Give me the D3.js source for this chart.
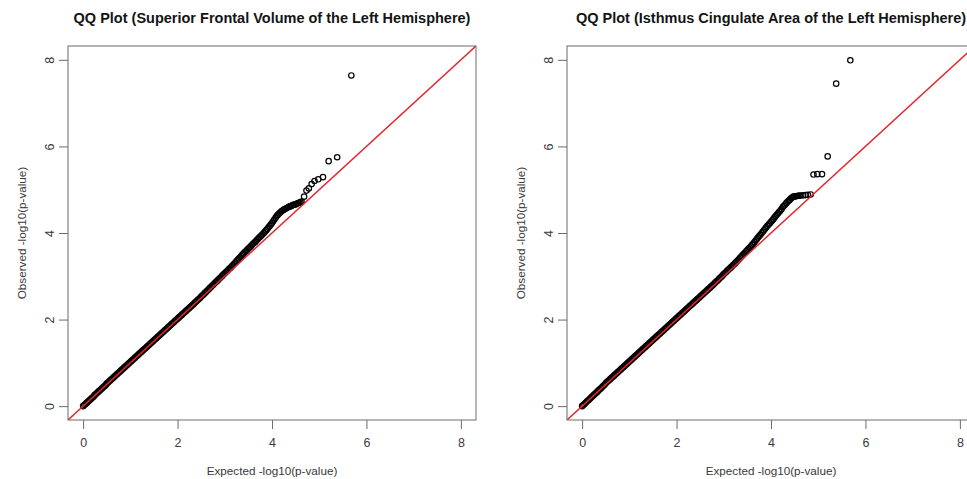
<!DOCTYPE html>
<html>
<head>
<meta charset="utf-8">
<script src="https://cdn.jsdelivr.net/npm/d3@7"></script>
<style>
  body { margin: 0; background: #fff; }
  text { font-family: "Liberation Sans", Arial, sans-serif; }
</style>
</head>
<body>
<svg id="chart" width="967" height="479"></svg>
<script>
const AXIS_TICKS = [0, 2, 4, 6, 8];
const TITLES = [
  "QQ Plot (Superior Frontal Volume of the Left Hemisphere)",
  "QQ Plot (Isthmus Cingulate Area of the Left Hemisphere)"
];
const X_LABEL = "Expected -log10(p-value)";
const Y_LABEL = "Observed -log10(p-value)";

// expected quantiles, shared by both panels (same number of tests)
const expected = [
  0, 0.025, 0.05, 0.075, 0.1, 0.125, 0.15, 0.175, 0.2, 0.225,
  0.25, 0.275, 0.3, 0.325, 0.35, 0.375, 0.4, 0.425, 0.45, 0.475,
  0.5, 0.525, 0.55, 0.575, 0.6, 0.625, 0.65, 0.675, 0.7, 0.725,
  0.75, 0.775, 0.8, 0.825, 0.85, 0.875, 0.9, 0.925, 0.95, 0.975,
  1, 1.025, 1.05, 1.075, 1.1, 1.125, 1.15, 1.175, 1.2, 1.225,
  1.25, 1.275, 1.3, 1.325, 1.35, 1.375, 1.4, 1.425, 1.45, 1.475,
  1.5, 1.525, 1.55, 1.575, 1.6, 1.625, 1.65, 1.675, 1.7, 1.725,
  1.75, 1.775, 1.8, 1.825, 1.85, 1.875, 1.9, 1.925, 1.95, 1.975,
  2, 2.025, 2.05, 2.075, 2.1, 2.125, 2.15, 2.175, 2.2, 2.225,
  2.25, 2.275, 2.3, 2.325, 2.35, 2.375, 2.4, 2.425, 2.45, 2.475,
  2.5, 2.525, 2.55, 2.575, 2.6, 2.625, 2.65, 2.675, 2.7, 2.725,
  2.75, 2.775, 2.8, 2.825, 2.85, 2.875, 2.9, 2.925, 2.95, 2.975,
  3, 3.025, 3.05, 3.075, 3.1, 3.125, 3.15, 3.175, 3.2, 3.225,
  3.25, 3.275, 3.3, 3.325, 3.35, 3.375, 3.4, 3.425, 3.45, 3.475,
  3.5, 3.525, 3.55, 3.575, 3.6, 3.625, 3.65, 3.675, 3.7, 3.725,
  3.75, 3.775, 3.8, 3.825, 3.85, 3.875, 3.9, 3.925, 3.95, 3.975,
  4, 4.025, 4.05, 4.075, 4.1, 4.125, 4.15, 4.175, 4.2, 4.225,
  4.25, 4.275, 4.3, 4.325, 4.35, 4.375, 4.4, 4.425, 4.45, 4.475,
  4.5, 4.525, 4.55, 4.575, 4.6, 4.625,
  4.68, 4.73, 4.78, 4.84, 4.9, 4.98, 5.08, 5.2, 5.38, 5.68
];

const observedFrontal = [
  0, 0.025, 0.05, 0.075, 0.1, 0.125, 0.15, 0.175, 0.2, 0.225,
  0.26, 0.285, 0.31, 0.335, 0.36, 0.385, 0.41, 0.435, 0.46, 0.485,
  0.52, 0.545, 0.57, 0.595, 0.62, 0.645, 0.67, 0.695, 0.72, 0.745,
  0.77, 0.795, 0.82, 0.845, 0.87, 0.895, 0.92, 0.945, 0.97, 0.995,
  1.02, 1.045, 1.07, 1.095, 1.12, 1.145, 1.17, 1.195, 1.22, 1.245,
  1.27, 1.295, 1.32, 1.345, 1.37, 1.395, 1.42, 1.445, 1.47, 1.495,
  1.52, 1.545, 1.57, 1.595, 1.62, 1.645, 1.67, 1.695, 1.72, 1.745,
  1.77, 1.795, 1.82, 1.845, 1.87, 1.895, 1.92, 1.945, 1.97, 1.995,
  2.02, 2.045, 2.07, 2.095, 2.12, 2.145, 2.17, 2.195, 2.22, 2.245,
  2.27, 2.295, 2.32, 2.345, 2.37, 2.4, 2.425, 2.45, 2.475, 2.5,
  2.53, 2.555, 2.58, 2.61, 2.635, 2.665, 2.69, 2.72, 2.745, 2.775,
  2.8, 2.825, 2.855, 2.88, 2.905, 2.935, 2.96, 2.99, 3.015, 3.045,
  3.07, 3.1, 3.12, 3.15, 3.18, 3.2, 3.23, 3.26, 3.29, 3.32,
  3.35, 3.38, 3.41, 3.44, 3.47, 3.5, 3.53, 3.56, 3.585, 3.61,
  3.64, 3.665, 3.69, 3.72, 3.75, 3.775, 3.8, 3.83, 3.86, 3.89,
  3.915, 3.94, 3.97, 4, 4.03, 4.06, 4.09, 4.125, 4.16, 4.195,
  4.23, 4.27, 4.31, 4.35, 4.39, 4.42, 4.45, 4.475, 4.5, 4.52,
  4.54, 4.555, 4.57, 4.585, 4.6, 4.615, 4.62, 4.635, 4.65, 4.655,
  4.66, 4.675, 4.69, 4.7, 4.71, 4.725,
  4.84, 4.98, 5.03, 5.13, 5.2, 5.24, 5.29, 5.66, 5.75, 7.64
];

const observedCingulate = [
  0, 0.025, 0.05, 0.08, 0.105, 0.13, 0.155, 0.18, 0.21, 0.235,
  0.26, 0.285, 0.31, 0.335, 0.365, 0.39, 0.415, 0.44, 0.47, 0.495,
  0.53, 0.555, 0.58, 0.605, 0.63, 0.655, 0.68, 0.705, 0.73, 0.755,
  0.78, 0.805, 0.83, 0.855, 0.88, 0.905, 0.93, 0.955, 0.98, 1.005,
  1.03, 1.055, 1.08, 1.105, 1.13, 1.155, 1.18, 1.205, 1.23, 1.255,
  1.28, 1.305, 1.33, 1.355, 1.38, 1.405, 1.43, 1.455, 1.48, 1.505,
  1.53, 1.555, 1.58, 1.605, 1.63, 1.655, 1.68, 1.705, 1.73, 1.755,
  1.78, 1.805, 1.83, 1.855, 1.88, 1.905, 1.93, 1.955, 1.98, 2.005,
  2.03, 2.055, 2.08, 2.105, 2.13, 2.155, 2.18, 2.205, 2.23, 2.255,
  2.28, 2.305, 2.33, 2.355, 2.38, 2.405, 2.43, 2.455, 2.48, 2.505,
  2.53, 2.555, 2.58, 2.605, 2.63, 2.655, 2.68, 2.705, 2.73, 2.755,
  2.78, 2.805, 2.832, 2.86, 2.885, 2.91, 2.94, 2.965, 2.99, 3.02,
  3.05, 3.075, 3.1, 3.13, 3.155, 3.18, 3.205, 3.23, 3.26, 3.285,
  3.315, 3.34, 3.37, 3.4, 3.43, 3.46, 3.49, 3.52, 3.545, 3.575,
  3.605, 3.635, 3.665, 3.695, 3.725, 3.755, 3.79, 3.825, 3.86, 3.895,
  3.93, 3.96, 3.995, 4.03, 4.065, 4.1, 4.13, 4.165, 4.195, 4.225,
  4.26, 4.29, 4.32, 4.36, 4.39, 4.425, 4.455, 4.49, 4.52, 4.555,
  4.6, 4.63, 4.66, 4.69, 4.72, 4.745, 4.77, 4.8, 4.82, 4.84,
  4.845, 4.85, 4.855, 4.86, 4.86, 4.865,
  4.87, 4.875, 4.88, 4.89, 5.35, 5.36, 5.36, 5.77, 7.45, 7.99
];

const plotTop = 46, plotBottom = 420;
const DOMAIN = [-0.32, 8.32];

const panels = [
  { id: "frontal", title: TITLES[0], observed: observedFrontal, left: 68, right: 476 },
  { id: "cingulate", title: TITLES[1], observed: observedCingulate, left: 567, right: 975 }
];

function renderXAxis(x, target) {
  target.append("g")
    .attr("class", "x-axis")
    .attr("transform", `translate(0,${plotBottom})`)
    .call(d3.axisBottom(x).tickValues(AXIS_TICKS).tickSize(9).tickPadding(9).tickFormat(d3.format("d")));
}

function renderYAxis(y, target, left) {
  target.append("g")
    .attr("class", "y-axis")
    .attr("transform", `translate(${left},0)`)
    .call(d3.axisLeft(y).tickValues(AXIS_TICKS).tickSize(9).tickFormat(d3.format("d")));

  target.select(".y-axis")
    .selectAll("text")
    .attr("transform", "rotate(-90)")
    .attr("x", 0)
    .attr("y", -14.5)
    .attr("dy", 0)
    .style("text-anchor", "middle");
}

function drawPanel(p) {
  let svg = d3.select("#chart");
  let g = svg.append("g").attr("id", p.id);

  let x = d3.scaleLinear().domain(DOMAIN).range([p.left, p.right]);
  let y = d3.scaleLinear().domain(DOMAIN).range([plotBottom, plotTop]);

  g.append("clipPath")
    .attr("id", `clip-${p.id}`)
    .append("rect")
    .attr("x", p.left)
    .attr("y", plotTop)
    .attr("width", p.right - p.left)
    .attr("height", plotBottom - plotTop);

  let pts = expected.map(function(e, i) { return [e, p.observed[i]]; });

  g.append("g")
    .attr("class", "points")
    .selectAll("circle")
    .data(pts)
    .enter()
    .append("circle")
    .attr("cx", function(d) { return x(d[0]); })
    .attr("cy", function(d) { return y(d[1]); })
    .attr("r", 2.7)
    .attr("fill", "none")
    .attr("stroke", "#000")
    .attr("stroke-width", 1.2);

  // abline(0, 1)
  g.append("path")
    .datum([[DOMAIN[0], DOMAIN[0]], [DOMAIN[1], DOMAIN[1]]])
    .attr("clip-path", `url(#clip-${p.id})`)
    .attr("d", d3.line().x(function(d) { return x(d[0]); }).y(function(d) { return y(d[1]); }))
    .attr("stroke", "#e3262a")
    .attr("stroke-width", 1.5)
    .attr("fill", "none");

  renderXAxis(x, g);
  renderYAxis(y, g, p.left);

  g.selectAll(".x-axis .domain, .y-axis .domain").remove();
  g.selectAll(".tick line").attr("stroke", "#6b6b6b");
  g.selectAll(".tick text")
    .attr("fill", "#3a3a3a")
    .style("font-size", "12.5px");

  g.append("rect")
    .attr("x", p.left)
    .attr("y", plotTop)
    .attr("width", p.right - p.left)
    .attr("height", plotBottom - plotTop)
    .attr("fill", "none")
    .attr("stroke", "#6b6b6b")
    .attr("stroke-width", 1);

  let cx = (p.left + p.right) / 2;

  g.append("text")
    .attr("x", cx)
    .attr("y", 23)
    .attr("text-anchor", "middle")
    .style("font-weight", "bold")
    .style("font-size", "14.5px")
    .attr("fill", "#141414")
    .text(p.title);

  g.append("text")
    .attr("x", cx)
    .attr("y", 474.5)
    .attr("text-anchor", "middle")
    .style("font-size", "11.7px")
    .attr("fill", "#3a3a3a")
    .text(X_LABEL);

  g.append("text")
    .attr("transform", `translate(${p.left - 42},${(plotTop + plotBottom) / 2}) rotate(-90)`)
    .attr("text-anchor", "middle")
    .style("font-size", "11.7px")
    .attr("fill", "#3a3a3a")
    .text(Y_LABEL);
}

panels.forEach(drawPanel);
</script>
</body>
</html>
